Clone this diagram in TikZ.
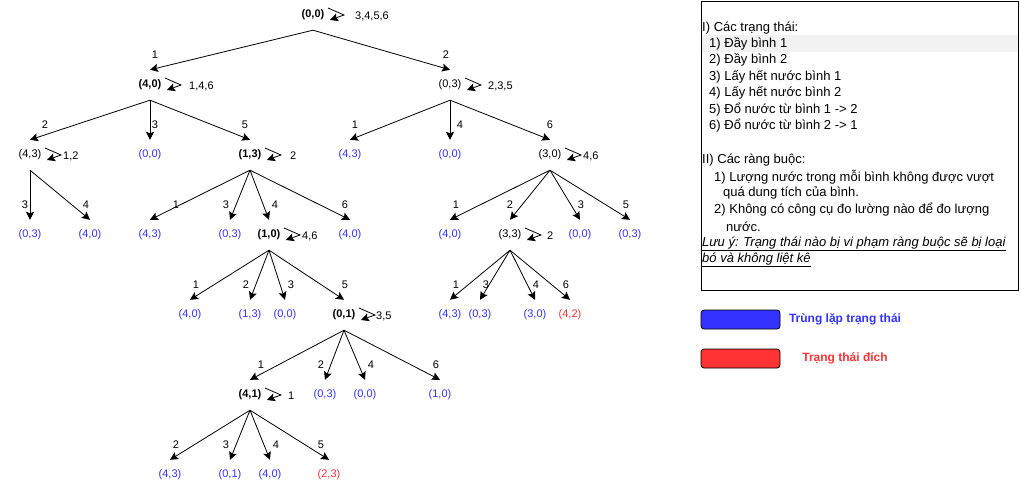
\documentclass[tikz,border=0pt]{standalone}
\usepackage{fontspec}
\setmainfont{Liberation Sans}
\usepackage{tikz}
\usetikzlibrary{arrows.meta}
\definecolor{colorDup}{HTML}{3333FF}
\definecolor{colorGoal}{HTML}{FF3333}

\tikzset{
    small/.style={font=\fontsize{11}{13}\selectfont},
    st/.style={small, font=\fontsize{11}{13}\selectfont\bfseries, inner sep=0pt, minimum height=30pt, minimum width=26pt},
    stn/.style={st, font=\fontsize{11}{13}\selectfont},
    dup/.style={stn, text=colorDup},
    goal/.style={stn, text=colorGoal},
    edge/.style={-{Stealth[length=8pt,width=8pt,inset=1.5pt]}, line width=0.8pt},
    lbl/.style={small, inner sep=0pt, yshift=15pt},
    info/.style={font=\fontsize{13}{15}\selectfont, anchor=west, inner sep=0pt},
    legend/.style={draw=black, line width=0.8pt, rounded corners=3pt},
}

% vong lap ve chinh trang thai
\newcommand{\selfloop}[3][35]{%
    \draw[edge, line join=miter] ([shift={(15,-7)}]#2.center) -- ++(16,7) -- ++(-14,5);
    \node[small, inner sep=0pt, anchor=west] (#2l) at ([shift={(#1,1)}]#2.center) {#3};
}

\begin{document}
\begin{tikzpicture}[x=1pt, y=-1pt]
        \useasboundingbox (0,0) rectangle (1021,492);

        % cay trang thai
        \node[st] (a) at (313,15) {(0,0)};
        \node[st] (b1) at (150,85) {(4,0)};
        \node[stn] (b2) at (450,85) {(0,3)};

        \node[stn] (c1) at (30,155) {(4,3)};
        \node[dup] (c2) at (150,155) {(0,0)};
        \node[st] (c3) at (250,155) {(1,3)};
        \node[dup] (c4) at (350,155) {(4,3)};
        \node[dup] (c5) at (450,155) {(0,0)};
        \node[stn] (c6) at (550,155) {(3,0)};

        \node[dup] (d1) at (30,235) {(0,3)};
        \node[dup] (d2) at (90,235) {(4,0)};
        \node[dup] (d3) at (150,235) {(4,3)};
        \node[dup] (d4) at (230,235) {(0,3)};
        \node[st] (d5) at (269,235) {(1,0)};
        \node[dup] (d6) at (350,235) {(4,0)};
        \node[dup] (d7) at (450,235) {(4,0)};
        \node[stn] (d8) at (510,235) {(3,3)};
        \node[dup] (d9) at (580,235) {(0,0)};
        \node[dup] (d10) at (630,235) {(0,3)};

        \node[dup] (e1) at (190,315) {(4,0)};
        \node[dup] (e2) at (250,315) {(1,3)};
        \node[dup] (e3) at (285,315) {(0,0)};
        \node[st] (e4) at (344,315) {(0,1)};
        \node[dup] (e5) at (450,315) {(4,3)};
        \node[dup] (e6) at (480,315) {(0,3)};
        \node[dup] (e7) at (535,315) {(3,0)};
        \node[goal] (e8) at (570,315) {(4,2)};

        \node[st] (f1) at (250,395) {(4,1)};
        \node[dup] (f2) at (325,395) {(0,3)};
        \node[dup] (f3) at (365,395) {(0,0)};
        \node[dup] (f4) at (440,395) {(1,0)};

        \node[dup] (g1) at (170,475) {(4,3)};
        \node[dup] (g2) at (230,475) {(0,1)};
        \node[dup] (g3) at (270,475) {(4,0)};
        \node[goal] (g4) at (329,475) {(2,3)};

        \draw[edge] (a.south) -- (b1.north) node[lbl, xshift=5pt] {1};
        \draw[edge] (a.south) -- (b2.north) node[lbl, xshift=-4pt] {2};

        \draw[edge] (b1.south) -- (c1.north) node[lbl, xshift=15pt] {2};
        \draw[edge] (b1.south) -- (c2.north) node[lbl, xshift=5pt] {3};
        \draw[edge] (b1.south) -- (c3.north) node[lbl, xshift=-5pt] {5};
        \draw[edge] (b2.south) -- (c4.north) node[lbl, xshift=5pt] {1};
        \draw[edge] (b2.south) -- (c5.north) node[lbl, xshift=10pt] {4};
        \draw[edge] (b2.south) -- (c6.north) node[lbl] {6};

        \draw[edge] (c1.south) -- (d1.north) node[lbl, xshift=-5pt] {3};
        \draw[edge] (c1.south) -- (d2.north) node[lbl, xshift=-4pt] {4};
        \draw[edge] (c3.south) -- (d3.north) node[lbl, xshift=26pt] {1};
        \draw[edge] (c3.south) -- (d4.north) node[lbl, xshift=-4pt] {3};
        \draw[edge] (c3.south) -- (d5.north) node[lbl, xshift=6pt] {4};
        \draw[edge] (c3.south) -- (d6.north) node[lbl, xshift=-5pt] {6};
        \draw[edge] (c6.south) -- (d7.north) node[lbl, xshift=6pt] {1};
        \draw[edge] (c6.south) -- (d8.north) node[lbl] {2};
        \draw[edge] (c6.south) -- (d9.north) node[lbl, xshift=1pt] {3};
        \draw[edge] (c6.south) -- (d10.north) node[lbl, xshift=-4pt] {5};

        \draw[edge] (d5.south) -- (e1.north) node[lbl, xshift=6pt] {1};
        \draw[edge] (d5.south) -- (e2.north) node[lbl, xshift=-4pt] {2};
        \draw[edge] (d5.south) -- (e3.north) node[lbl, xshift=6pt] {3};
        \draw[edge] (d5.south) -- (e4.north) node[lbl, xshift=1pt] {5};
        \draw[edge] (d8.south) -- (e5.north) node[lbl, xshift=6pt] {1};
        \draw[edge] (d8.south) -- (e6.north) node[lbl, xshift=6pt] {3};
        \draw[edge] (d8.south) -- (e7.north) node[lbl, xshift=1pt] {4};
        \draw[edge] (d8.south) -- (e8.north) node[lbl, xshift=-4pt] {6};

        \draw[edge] (e4.south) -- (f1.north) node[lbl, xshift=11pt] {1};
        \draw[edge] (e4.south) -- (f2.north) node[lbl, xshift=-4pt] {2};
        \draw[edge] (e4.south) -- (f3.north) node[lbl, xshift=6pt] {4};
        \draw[edge] (e4.south) -- (f4.north) node[lbl, xshift=-4pt] {6};

        \draw[edge] (f1.south) -- (g1.north) node[lbl, xshift=6pt] {2};
        \draw[edge] (f1.south) -- (g2.north) node[lbl, xshift=-4pt] {3};
        \draw[edge] (f1.south) -- (g3.north) node[lbl, xshift=6pt] {4};
        \draw[edge] (f1.south) -- (g4.north) node[lbl, xshift=-8pt] {5};

        \selfloop[42]{a}{3,4,5,6}
        \selfloop[39]{b1}{1,4,6}
        \selfloop[38]{b2}{2,3,5}
        \selfloop[33]{c1}{1,2}
        \selfloop[40]{c3}{2}
        \selfloop[33]{c6}{4,6}
        \selfloop[33]{d5}{4,6}
        \selfloop[37]{d8}{2}
        \selfloop[32]{e4}{3,5}
        \selfloop[38]{f1}{1}

        % khung ghi chu
        \fill[black!5] (701,35) rectangle (1018,52);
        \draw[line width=0.8pt] (701,1) rectangle (1018,290);
        \foreach \x/\y/\t [count=\i] in {702/28/{I) Các trạng thái:},
                709/44/{1) Đầy bình 1}, 709/60/{2) Đầy bình 2},
                709/77/{3) Lấy hết nước bình 1}, 709/93/{4) Lấy hết nước bình 2},
                709/110/{5) Đổ nước từ bình 1 -> 2}, 709/126/{6) Đổ nước từ bình 2 -> 1},
                702/160/{II) Các ràng buộc:},
                714/177/{1) Lượng nước trong mỗi bình không được vượt},
                723/193/{quá dung tích của bình.},
                714/210/{2) Không có công cụ đo lường nào để đo lượng},
                726/227/{nước.}}
            \node[info] (t\i) at (\x,\y) {\t};
        \node[info] (note1) at (702,244) {\underline{\itshape Lưu ý: Trạng thái nào bị vi phạm ràng buộc sẽ bị loại}};
        \node[info] (note2) at (702,260) {\underline{\itshape bó và không liệt kê}};

        % chu thich
        \filldraw[legend, fill=colorDup] (701,310) rectangle (780,329);
        \filldraw[legend, fill=colorGoal] (701,349) rectangle (780,368);
        \node[font=\fontsize{12}{14}\selectfont\bfseries, text=colorDup] (leg1) at (845,319) {Trùng lặp trạng thái};
        \node[font=\fontsize{12}{14}\selectfont\bfseries, text=colorGoal] (leg2) at (845,358) {Trạng thái đích};
    \end{tikzpicture}
\end{document}
